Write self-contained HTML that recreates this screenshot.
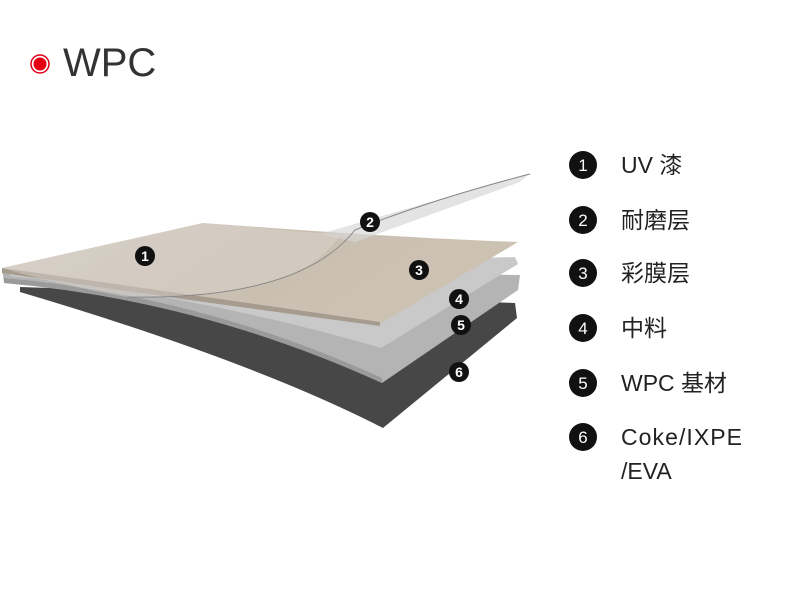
<!DOCTYPE html>
<html><head><meta charset="utf-8"><style>
body{margin:0;background:#fff;width:800px;height:600px;overflow:hidden;font-family:"Liberation Sans","Noto Sans CJK SC",sans-serif}
</style></head><body>
<svg width="800" height="600" viewBox="0 0 800 600" xmlns="http://www.w3.org/2000/svg">
<defs>
<linearGradient id="wood" x1="0" y1="0" x2="1" y2="0.3">
<stop offset="0" stop-color="#d2ccc3"/><stop offset="0.5" stop-color="#c9bfb1"/><stop offset="1" stop-color="#cdc2b2"/>
</linearGradient>
<linearGradient id="film" x1="0" y1="0" x2="1" y2="0">
<stop offset="0" stop-color="#d4d4d4" stop-opacity="0.6"/><stop offset="1" stop-color="#e4e4e4"/>
</linearGradient>
</defs>
<circle cx="40" cy="64" r="9" fill="#fff" stroke="#e60012" stroke-width="1.5"/>
<circle cx="40" cy="64" r="6.5" fill="#e60012"/>
<text x="63" y="76" font-size="40" fill="#333">WPC</text>

<!-- layer 6 dark -->
<path d="M20,287 L515,303 L517,318 L383,428 Q250,360 20,292 Z" fill="#474747"/>
<!-- layer 5 WPC -->
<path d="M2,268 L520,275 L518,290 L382,383 Q200,300 4,283 Z" fill="#b4b4b4"/>
<path d="M4,278 Q200,295 382,378 L382,383 Q200,300 4,283 Z" fill="#9a9a9a"/>
<!-- layer 4 -->
<path d="M10,272 L515,257 L518,264 L381,348 Q200,295 10,276 Z" fill="#c9c9c9"/>
<!-- wood -->
<path d="M2,268 L203,223 Q400,238 518,242 L380,324 Q200,300 2,272 Z" fill="url(#wood)"/>
<path d="M2,268 Q200,296 380,322 L380,326 Q200,302 2,273 Z" fill="#a59b8e"/>
<!-- laid film over left wood -->
<path d="M2,268 L203,223 L340,235 Q300,300 127,297 Q60,285 2,268 Z" fill="#ddd8d0" opacity="0.45"/>
<!-- lifted film -->
<path d="M320,234 Q420,205 530,173 L520,182 Q430,215 355,242 Z" fill="url(#film)"/>
<path d="M127,297 Q300,300 355,230 Q430,200 530,174" fill="none" stroke="#8a8a8a" stroke-width="1"/>

<g font-size="14" fill="#fff" text-anchor="middle" font-weight="bold">
<circle cx="145" cy="256" r="10" fill="#111"/><text x="145" y="261">1</text>
<circle cx="370" cy="222" r="10" fill="#111"/><text x="370" y="227">2</text>
<circle cx="419" cy="270" r="10" fill="#111"/><text x="419" y="275">3</text>
<circle cx="459" cy="299" r="10" fill="#111"/><text x="459" y="304">4</text>
<circle cx="461" cy="325" r="10" fill="#111"/><text x="461" y="330">5</text>
<circle cx="459" cy="372" r="10" fill="#111"/><text x="459" y="377">6</text>
</g>

<g font-size="17" fill="#fff" text-anchor="middle">
<circle cx="583" cy="165" r="14" fill="#111"/><text x="583" y="171">1</text>
<circle cx="583" cy="220" r="14" fill="#111"/><text x="583" y="226">2</text>
<circle cx="583" cy="273" r="14" fill="#111"/><text x="583" y="279">3</text>
<circle cx="583" cy="328" r="14" fill="#111"/><text x="583" y="334">4</text>
<circle cx="583" cy="383" r="14" fill="#111"/><text x="583" y="389">5</text>
<circle cx="583" cy="437" r="14" fill="#111"/><text x="583" y="443">6</text>
</g>
<g font-size="23" fill="#222">
<text x="621" y="173">UV 漆</text>
<text x="621" y="228">耐磨层</text>
<text x="621" y="281">彩膜层</text>
<text x="621" y="336">中料</text>
<text x="621" y="391">WPC 基材</text>
<text x="621" y="445" textLength="121">Coke/IXPE</text>
<text x="621" y="479">/EVA</text>
</g>
</svg>
</body></html>
